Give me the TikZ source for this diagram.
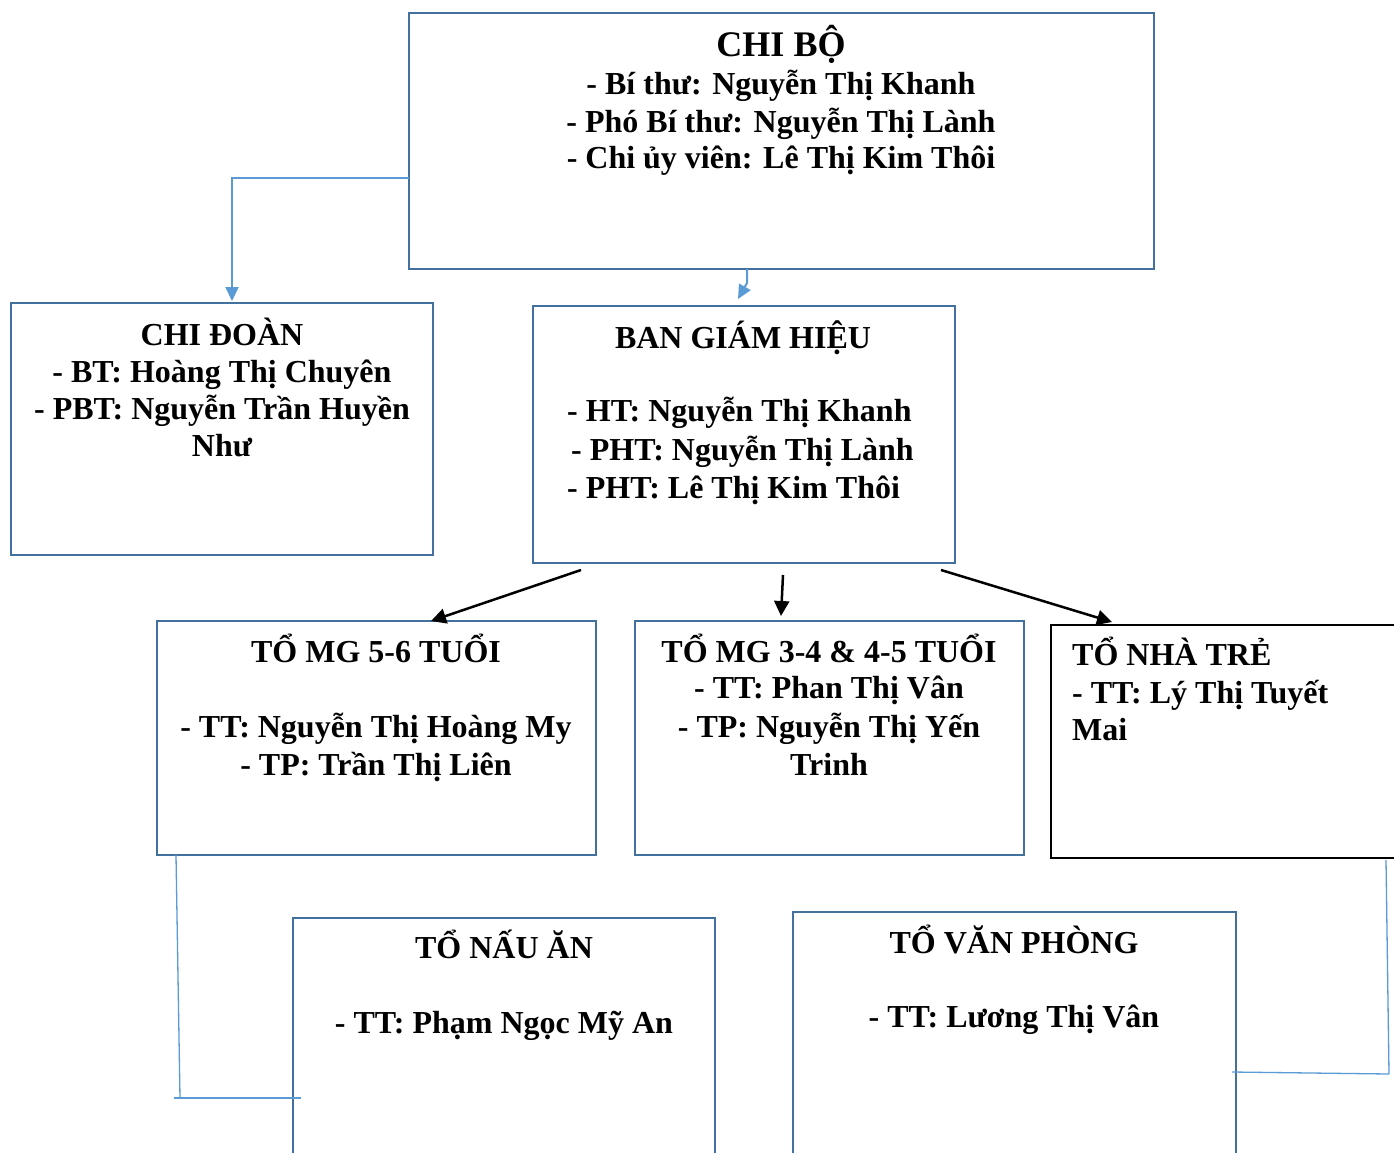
\documentclass[tikz,border=0pt]{standalone}
\usepackage{fontspec}
\setmainfont{Liberation Serif}
\usetikzlibrary{arrows.meta,calc}
\definecolor{boxblue}{HTML}{41719C}
\definecolor{linkblue}{HTML}{5B9BD5}
\begin{document}
\begin{tikzpicture}[x=1pt,y=-1pt,
  box/.style={draw=boxblue,line width=2.8pt,rectangle,inner sep=0,outer sep=0,anchor=north west},
  blackbox/.style={draw=black,line width=2.2pt,rectangle,inner sep=0,outer sep=0,anchor=north west},
  txt/.style={font=\fontsize{32}{37}\selectfont\bfseries,inner sep=0,anchor=base},
  ltxt/.style={txt,anchor=base west},
  bigtxt/.style={txt,font=\fontsize{36}{40}\selectfont\bfseries},
  bluelink/.style={draw=linkblue,line width=2pt,-{Triangle[length=14pt,width=13pt]}},
  thinlink/.style={draw=linkblue,line width=1.3pt},
  blacklink/.style={draw=black,line width=2.5pt,-{Triangle[length=15pt,width=15pt]}}]
\clip (0,0) rectangle (1394,1153);
\fill[white] (0,0) rectangle (1394,1153);

% boxes
\node[box,minimum width=745pt,minimum height=256pt] (chibo) at (409,13) {};
\node[box,minimum width=422pt,minimum height=252pt] (chidoan) at (11,303) {};
\node[box,minimum width=422pt,minimum height=257pt] (bgh) at (533,306) {};
\node[box,minimum width=439pt,minimum height=234pt] (mg56) at (157,621) {};
\node[box,minimum width=389pt,minimum height=234pt] (mg345) at (635,621) {};
\node[blackbox,minimum width=420pt,minimum height=233pt] (nhatre) at (1051,625) {};
\node[box,minimum width=422pt,minimum height=262pt] (nauan) at (293,918) {};
\node[box,minimum width=443pt,minimum height=268pt] (vanphong) at (793,912) {};

% texts
\node[bigtxt] (t1a) at (781,57) {CHI BỘ};
\node[txt] (t1b) at (781,95) {- Bí thư: Nguyễn Thị Khanh};
\node[txt] (t1c) at (781,132) {- Phó Bí thư: Nguyễn Thị Lành};
\node[txt] (t1d) at (781,168) {- Chi ủy viên: Lê Thị Kim Thôi};

\node[txt] (t2a) at (222,345) {CHI ĐOÀN};
\node[txt] (t2b) at (222,382) {- BT: Hoàng Thị Chuyên};
\node[txt] (t2c) at (222,419) {- PBT: Nguyễn Trần Huyền};
\node[txt] (t2d) at (222,456) {Như};

\node[txt] (t3a) at (743,348) {BAN GIÁM HIỆU};
\node[ltxt] (t3b) at (567,421) {- HT: Nguyễn Thị Khanh};
\node[ltxt] (t3c) at (571,460) {- PHT: Nguyễn Thị Lành};
\node[ltxt] (t3d) at (567,498) {- PHT: Lê Thị Kim Thôi};

\node[txt] (t4a) at (376,662) {TỔ MG 5-6 TUỔI};
\node[txt] (t4b) at (376,737) {- TT: Nguyễn Thị Hoàng My};
\node[txt] (t4c) at (376,775) {- TP: Trần Thị Liên};

\node[txt] (t5a) at (829,662) {TỔ MG 3-4 \& 4-5 TUỔI};
\node[txt] (t5b) at (829,698) {- TT: Phan Thị Vân};
\node[txt] (t5c) at (829,737) {- TP: Nguyễn Thị Yến};
\node[txt] (t5d) at (829,775) {Trinh};

\node[ltxt] (t6a) at (1072,665) {TỔ NHÀ TRẺ};
\node[ltxt] (t6b) at (1072,703) {- TT: Lý Thị Tuyết};
\node[ltxt] (t6c) at (1072,740) {Mai};

\node[txt] (t7a) at (504,958) {TỔ NẤU ĂN};
\node[txt] (t7b) at (504,1033) {- TT: Phạm Ngọc Mỹ An};

\node[txt] (t8a) at (1014,953) {TỔ VĂN PHÒNG};
\node[txt] (t8b) at (1014,1027) {- TT: Lương Thị Vân};

% connectors
\coordinate (c1) at (232,178);
\draw[bluelink] (chibo.west |- c1) -- (c1) -- ($(c1 |- chidoan.north)+(0,-2)$);
\coordinate (c2) at (747,283);
\draw[bluelink] (c2 |- chibo.south) -- (c2) -- ($(chidoan.north -| 738,0)+(0,-4)$ |- 0,299);

\draw[blacklink] ($(bgh.south west)+(48,7)$) -- ($(mg56.north west)+(274,0)$);
\draw[blacklink] ($(bgh.south west)+(250,12)$) -- ($(mg345.north west)+(146,-5)$);
\draw[blacklink] ($(bgh.south west)+(408,7)$) -- ($(nhatre.north west)+(61,-3)$);

\coordinate (c3) at (180,1098);
\draw[thinlink] ($(mg56.south west)+(19,0)$) -- (c3);
\draw[thinlink] ($(c3)+(-6,0)$) -- ($(nauan.west |- c3)+(8,0)$);
\coordinate (c4) at (1389,1074);
\draw[thinlink] ($(nhatre.south west)+(335,2)$) -- (c4);
\draw[thinlink] (c4) -- ($(vanphong.east |- c4)+(-4,-2)$);
\end{tikzpicture}
\end{document}
